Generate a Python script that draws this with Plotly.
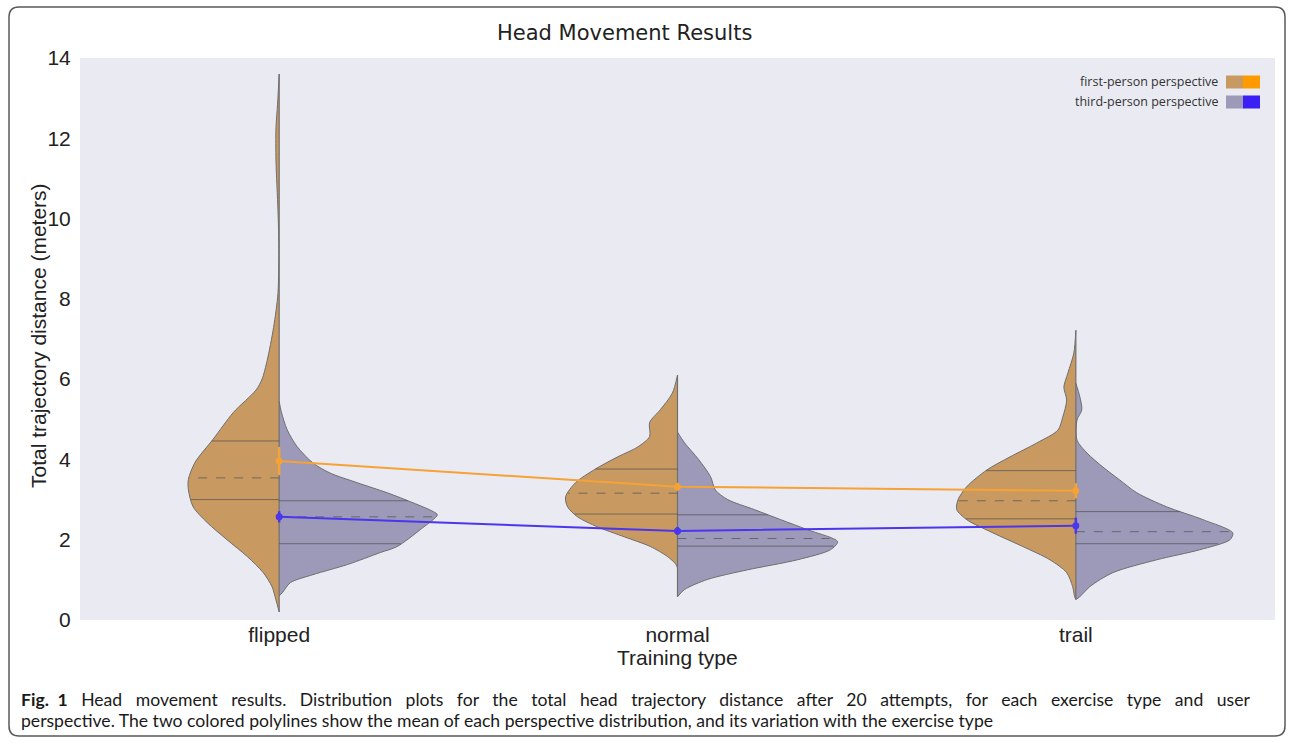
import numpy as np
import plotly.graph_objects as go

# ---------------- data ----------------
categories = ["flipped", "normal", "trail"]
series_names = ["first-person perspective", "third-person perspective"]

# mean of each perspective distribution (polylines) and their CI half-widths
mean_first = [3.96, 3.32, 3.22]
mean_third = [2.57, 2.22, 2.35]
ci_first = [0.35, 0.10, 0.19]
ci_third = [0.14, 0.10, 0.20]

# quartiles (inner lines of the violins)
q1_first = [3.00, 2.64, 2.52]
med_first = [3.54, 3.16, 2.97]
q3_first = [4.46, 3.76, 3.72]
q1_third = [1.90, 1.84, 1.90]
med_third = [2.57, 2.03, 2.20]
q3_third = [2.97, 2.62, 2.70]

# density profiles (value level, half-width in category units)
flipped_first_y = [0.2, 0.5, 0.83, 1.18, 1.58, 2.0, 2.43, 2.82, 3.25, 3.5, 3.93, 4.5, 5.17, 5.73, 6.0, 6.47, 7.29, 8.14, 9.38, 10.2, 11.44, 12.26, 12.85, 13.6]
flipped_first_w = [0, .008, .018, .040, .080, .131, .181, .216, .228, .228, .211, .166, .115, .058, .043, .030, .014, .003, .001, .003, .008, .008, .004, 0]
flipped_third_y = [0.6, 0.68, 0.93, 1.13, 1.38, 1.68, 1.83, 2.25, 2.62, 2.70, 2.92, 3.17, 3.42, 3.66, 3.91, 4.32, 4.74, 5.2, 5.45]
flipped_third_w = [0, .008, .028, .085, .171, .254, .296, .354, .397, .387, .336, .271, .196, .128, .085, .045, .020, .005, 0]

normal_first_y = [1.3, 1.4, 1.58, 1.83, 2.07, 2.32, 2.57, 2.82, 3.07, 3.42, 3.75, 4.06, 4.31, 4.57, 4.92, 5.24, 5.65, 6.1]
normal_first_w = [0, .005, .025, .068, .133, .201, .251, .276, .281, .256, .208, .151, .100, .070, .070, .043, .013, 0]
normal_third_y = [0.58, 0.76, 1.01, 1.25, 1.5, 1.75, 1.95, 2.25, 2.5, 2.75, 3.0, 3.24, 3.57, 4.0, 4.41, 4.68]
normal_third_w = [0, .018, .075, .176, .301, .384, .402, .326, .259, .193, .126, .095, .083, .053, .018, 0]

trail_first_y = [0.51, 0.58, 0.83, 1.18, 1.5, 1.83, 2.17, 2.5, 2.75, 2.99, 3.32, 3.74, 4.06, 4.41, 4.73, 5.05, 5.48, 5.8, 6.15, 6.65, 7.22]
trail_first_w = [0, .003, .008, .023, .065, .133, .208, .274, .299, .296, .274, .223, .166, .098, .045, .033, .023, .030, .020, .005, 0]
trail_third_y = [0.51, 0.58, 0.83, 1.18, 1.5, 1.75, 2.0, 2.17, 2.5, 2.82, 3.17, 3.49, 3.81, 4.16, 4.48, 4.98, 5.24, 5.56, 5.9]
trail_third_w = [0, .010, .035, .093, .203, .311, .387, .394, .319, .228, .153, .110, .068, .028, .003, .003, .015, .010, 0]

yticks = [0, 2, 4, 6, 8, 10, 12, 14]

caption_line1 = ["<b>Fig.", "1</b>", "Head", "movement", "results.", "Distribution", "plots", "for", "the",
                 "total", "head", "trajectory", "distance", "after", "20", "attempts,", "for", "each",
                 "exercise", "type", "and", "user"]
caption_line2 = ("perspective. The two colored polylines show the mean of each perspective distribution, "
                 "and its variation with the exercise type")

# ---------------- styling ----------------
W, H = 1293, 743
L, R, T, B = 80, 18, 58, 123
PW, PH = W - L - R, H - T - B
FILL_FIRST = "#C89A62"
FILL_THIRD = "#9C9AB8"
LINE_FIRST = "#F5A236"
LINE_THIRD = "#4A36EC"
SW_FIRST = "#FF9A00"
SW_THIRD = "#3A20F5"
OUTLINE = "#6E6E6E"
QLINE = "rgba(80,80,80,0.7)"
AXFONT = "Liberation Sans"


def px(xp):
    return (xp - L) / PW


def py(yp):
    return (T + PH - yp) / PH


profiles_first = [(flipped_first_y, flipped_first_w), (normal_first_y, normal_first_w), (trail_first_y, trail_first_w)]
profiles_third = [(flipped_third_y, flipped_third_w), (normal_third_y, normal_third_w), (trail_third_y, trail_third_w)]

fig = go.Figure()

for i, cat in enumerate(categories):
    for side, (prof, fillc) in enumerate([(profiles_first[i], FILL_FIRST), (profiles_third[i], FILL_THIRD)]):
        ys, ws = prof
        sign = -1 if side == 0 else 1
        xs = [i + sign * w for w in ws]
        fig.add_trace(go.Scatter(
            x=xs, y=ys, mode="lines", fill="toself", fillcolor=fillc,
            line=dict(color=OUTLINE, width=1, shape="spline", smoothing=0.8),
            hoverinfo="skip", showlegend=False))
    # center line
    lo = min(profiles_first[i][0][0], profiles_third[i][0][0])
    hi = max(profiles_first[i][0][-1], profiles_third[i][0][-1])
    fig.add_trace(go.Scatter(x=[i, i], y=[lo, hi], mode="lines",
                             line=dict(color=OUTLINE, width=1.2),
                             hoverinfo="skip", showlegend=False))
    # quartile lines
    for side, (prof, qs) in enumerate([
        (profiles_first[i], (q1_first[i], med_first[i], q3_first[i])),
        (profiles_third[i], (q1_third[i], med_third[i], q3_third[i]))]):
        ys, ws = prof
        sign = -1 if side == 0 else 1
        for k, q in enumerate(qs):
            w = float(np.interp(q, ys, ws))
            fig.add_trace(go.Scatter(
                x=[i, i + sign * w], y=[q, q], mode="lines",
                line=dict(color=QLINE, width=1, dash="dash" if k == 1 else "solid"),
                hoverinfo="skip", showlegend=False))

# mean polylines
fig.add_trace(go.Scatter(
    x=list(range(len(categories))), y=mean_first, mode="lines+markers",
    line=dict(color=LINE_FIRST, width=2), marker=dict(size=7, color=LINE_FIRST),
    error_y=dict(type="data", array=ci_first, color=LINE_FIRST, thickness=2.5, width=0),
    name=series_names[0], showlegend=False))
fig.add_trace(go.Scatter(
    x=list(range(len(categories))), y=mean_third, mode="lines+markers",
    line=dict(color=LINE_THIRD, width=2), marker=dict(size=7, color=LINE_THIRD),
    error_y=dict(type="data", array=ci_third, color=LINE_THIRD, thickness=2.5, width=0),
    name=series_names[1], showlegend=False))

shapes = []
annotations = []

# custom legend
leg_rows = [(82, FILL_FIRST, SW_FIRST, series_names[0]), (102, FILL_THIRD, SW_THIRD, series_names[1])]
for yc, c1, c2, name in leg_rows:
    shapes.append(dict(type="rect", xref="paper", yref="paper", x0=px(1226), x1=px(1243),
                       y0=py(yc + 6.5), y1=py(yc - 6.5), fillcolor=c1, line=dict(width=0), layer="above"))
    shapes.append(dict(type="rect", xref="paper", yref="paper", x0=px(1243), x1=px(1260),
                       y0=py(yc + 6.5), y1=py(yc - 6.5), fillcolor=c2, line=dict(width=0), layer="above"))
    annotations.append(dict(text=name, xref="paper", yref="paper", x=px(1220), y=py(yc),
                            xanchor="right", yanchor="middle", showarrow=False,
                            font=dict(family="Open Sans", size=12.5, color="#333333")))

# title
annotations.append(dict(text="Head Movement Results", xref="paper", yref="paper", x=px(624), y=py(33),
                        xanchor="center", yanchor="middle", showarrow=False,
                        font=dict(family="DejaVu Sans", size=21, color="#222222")))
# axis titles
annotations.append(dict(text="Total trajectory distance (meters)", xref="paper", yref="paper",
                        x=px(38), y=py(336), xanchor="center", yanchor="middle", textangle=-90,
                        showarrow=False, font=dict(family=AXFONT, size=21, color="#222222")))
annotations.append(dict(text="Training type", xref="paper", yref="paper",
                        x=px(677), y=py(657), xanchor="center", yanchor="middle",
                        showarrow=False, font=dict(family=AXFONT, size=21, color="#222222")))
# caption (first line justified to full width: widened word gaps)
nb = "\u00a0"
parts = [caption_line1[0]]
for k, word in enumerate(caption_line1[1:]):
    extra = 1 if k == 0 else 2
    parts.append(" " + nb * extra + word)
line1 = "".join(parts)
for yc, txt in [(699, line1), (720, caption_line2)]:
    annotations.append(dict(text=txt, xref="paper", yref="paper", x=px(19), y=py(yc),
                            xanchor="left", yanchor="middle", showarrow=False,
                            font=dict(family="Lato", size=17.6, color="#1a1a1a")))

# rounded border around the whole figure
x0, x1, y0, y1 = px(9), px(1285), py(736), py(7)
rx, ry = 10 / PW, 10 / PH
path = (f"M {x0+rx},{y1} L {x1-rx},{y1} Q {x1},{y1} {x1},{y1-ry} "
        f"L {x1},{y0+ry} Q {x1},{y0} {x1-rx},{y0} L {x0+rx},{y0} Q {x0},{y0} {x0},{y0+ry} "
        f"L {x0},{y1-ry} Q {x0},{y1} {x0+rx},{y1} Z")
shapes.append(dict(type="path", xref="paper", yref="paper", path=path,
                   line=dict(color="#5a5a5a", width=1.5), layer="above"))

fig.update_layout(
    width=W, height=H, margin=dict(l=L, r=R, t=T, b=B),
    paper_bgcolor="white", plot_bgcolor="#EAEAF2",
    showlegend=False, shapes=shapes, annotations=annotations,
    xaxis=dict(range=[-0.5, 2.5], tickvals=list(range(len(categories))), ticktext=categories,
               showgrid=False, zeroline=False, showline=False, ticks="",
               tickfont=dict(family=AXFONT, size=21, color="#222222")),
    yaxis=dict(range=[0, 14], tickvals=yticks, showgrid=False, zeroline=False, showline=False,
               ticks="outside", ticklen=4, tickcolor="rgba(0,0,0,0)",
               tickfont=dict(family=AXFONT, size=21, color="#222222")),
)

fig.write_html("out.html", config={"displayModeBar": False},
               post_script="document.body.style.margin='0';document.body.style.overflow='hidden';")
